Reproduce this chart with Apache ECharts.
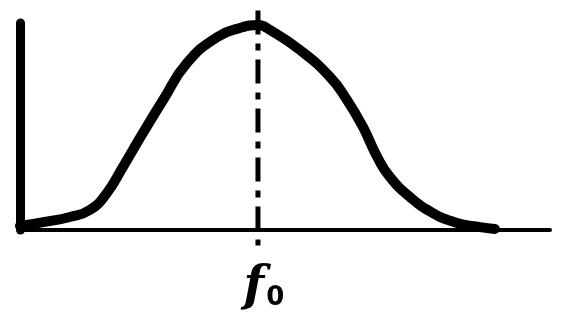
<!DOCTYPE html>
<html><head><meta charset="utf-8">
<script src="https://cdn.jsdelivr.net/npm/echarts@6/dist/echarts.min.js"></script>
<style>html,body{margin:0;padding:0;background:#fff}#c{width:561px;height:322px}</style>
</head><body><div id="c"></div>
<script>
// curve samples (x: relative frequency 0-100, y: response 0-100)
const curveX = [0, 4.7, 9.4, 13.2, 16.4, 19.4, 23.2, 27, 31.5, 37.2, 41.5, 44.9, 47.2, 52.8, 58.5, 61.7, 64.7, 67.4, 69.8, 73.6, 77.9, 82.5, 86.8, 89.6];
const curveY = [1.9, 3.9, 6.3, 9.7, 17.9, 30.4, 46.9, 62.8, 80.7, 93.2, 97.6, 99, 96.6, 87, 73.9, 62.8, 49.8, 35.3, 25.6, 15.9, 8.2, 3.4, 1.4, 0.5];
const centerX = 44.9;
const centerLineY = [106, -7.5];
const centerLabel = 'f';
const centerSub = '0';

const chart = echarts.init(document.getElementById('c'));
chart.setOption({
  animation: false,
  backgroundColor: '#fff',
  grid: {left: 20, right: 11, top: 23, bottom: 92},
  xAxis: {type: 'value', min: 0, max: 100,
    axisLine: {show: true, lineStyle: {color: '#000', width: 4}},
    axisTick: {show: false}, axisLabel: {show: false}, splitLine: {show: false}},
  yAxis: {type: 'value', min: 0, max: 100,
    axisLine: {show: true, lineStyle: {color: '#000', width: 9}},
    axisTick: {show: false}, axisLabel: {show: false}, splitLine: {show: false}},
  series: [
    {type: 'line', smooth: 0.5, symbol: 'none', clip: false,
     data: curveX.map((x, i) => [x, curveY[i]]),
     lineStyle: {color: '#000', width: 10, cap: 'round', join: 'round'}},
    {type: 'line', symbol: 'none', clip: false,
     data: centerLineY.map(y => [centerX, y]),
     lineStyle: {color: '#000', width: 5, type: [24, 9, 7, 9]},
     endLabel: {show: true, formatter: '{f|' + centerLabel + '}{s|' + centerSub + '}',
       offset: [-2, 18], align: 'center', verticalAlign: 'top',
       rich: {f: {fontFamily: 'DejaVu Serif', fontWeight: 'bold', fontStyle: 'italic', fontSize: 48, color: '#000'},
              s: {fontFamily: 'DejaVu Sans', fontWeight: 'bold', fontSize: 26, color: '#000', padding: [22, 0, 0, 2]}}}}
  ]
});
</script></body></html>
